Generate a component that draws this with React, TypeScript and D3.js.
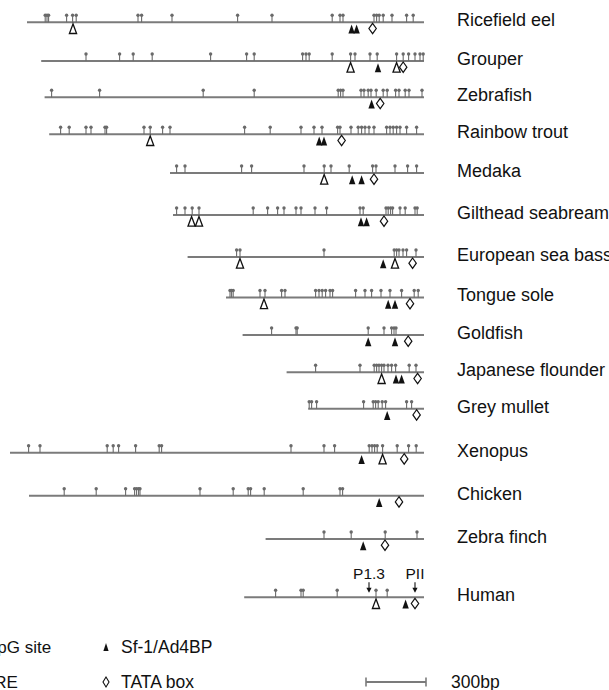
import React from "react";
import * as d3 from "d3";

// Species (rows, top to bottom)
const species = [
  "Ricefield eel", "Grouper", "Zebrafish", "Rainbow  trout", "Medaka",
  "Gilthead seabream", "European sea bass", "Tongue sole", "Goldfish",
  "Japanese flounder", "Grey mullet", "Xenopus", "Chicken", "Zebra finch", "Human",
];

// Promoter start (bp upstream of the reference end, 0)
const promoterStart = [-1985, -1914, -1897, -1874, -1270, -1255, -1182, -990, -907, -687, -579, -2070, -1975, -792, -899];

// CpG sites (bp)
const cpgSites = [
  [-1894, -1885, -1877, -1787, -1757, -1739, -1430, -1412, -1260, -932, -760, -459, -420, -405, -250, -237, -224, -204, -160, -87, -54],
  [-1690, -1522, -1454, -1359, -1067, -887, -849, -607, -590, -574, -459, -367, -345, -270, -234, -137, -104, -77, -45, -20, -4],
  [-1862, -1622, -1104, -849, -429, -417, -405, -315, -300, -279, -265, -239, -204, -184, -142, -125, -94, -75, -10],
  [-1817, -1774, -1690, -1665, -1595, -1587, -1400, -1369, -1307, -1270, -897, -769, -615, -550, -510, -432, -420, -365, -329, -312, -295, -275, -250, -187, -170, -154, -137, -120, -87, -37],
  [-1237, -1195, -912, -862, -600, -499, -465, -374, -257, -240, -145, -82, -37],
  [-1237, -1195, -1159, -1125, -854, -782, -732, -700, -640, -615, -545, -487, -320, -304, -190, -179, -167, -157, -120, -94, -45, -34],
  [-937, -920, -500, -149, -137, -125, -105, -87, -40],
  [-970, -962, -954, -820, -795, -712, -695, -542, -525, -509, -492, -470, -457, -342, -295, -262, -215, -170, -112, -49, -29],
  [-762, -640, -634, -279, -200, -162, -150, -140],
  [-542, -320, -249, -237, -225, -212, -200, -180, -162, -142, -74, -40],
  [-574, -562, -537, -302, -254, -242, -229, -209, -192, -87, -62],
  [-1977, -1920, -1584, -1554, -1527, -1442, -1324, -1312, -665, -500, -447, -274, -260, -247, -234, -207, -134, -77, -39],
  [-1799, -1639, -1492, -1447, -1437, -1427, -1420, -1120, -954, -879, -867, -799, -604, -420, -407],
  [-500, -364, -194, -35],
  [-742, -615, -604, -434, -240, -184],
];

// CRE sites (open triangles)
const creSites = [
  [-1755], [-367, -137], [], [-1369], [-499], [-1162, -1125], [-920, -145], [-800], [], [-212], [], [-207], [], [], [-240],
];

// Sf-1/Ad4BP sites (filled triangles)
const sf1Sites = [
  [-362, -337], [-230], [-262], [-524, -500], [-359, -312], [-315, -287], [-204], [-179, -145], [-279, -145], [-140, -112], [-184], [-312], [-224], [-304], [-92],
];

// TATA boxes (diamonds)
const tataSites = [
  [-257], [-104], [-219], [-412], [-250], [-200], [-57], [-70], [-79], [-32], [-37], [-99], [-125], [-195], [-45],
];

// Human promoter annotations
const humanPromoters = [
  { label: "P1.3", pos: -275 },
  { label: "PII", pos: -45 },
];

const scaleBarBp = 300;

// Layout
const W = 609;
const H = 690;
const rowY = [22.3, 61, 97.3, 134.3, 173, 215, 257, 297.5, 335, 372.3, 408.7, 452.7, 495.7, 539, 597.3];
const FONT = "'Liberation Sans', Arial, Helvetica, sans-serif";
const LINE_COLOR = "#7b7b7b";
const CPG_COLOR = "#6a6a6a";

export default function App() {
  const x = d3.scaleLinear().domain([-2100, 0]).range([4, 424]);
  const pxPerBp = (x(0) - x(-1));

  const triPath = (cx: number, y0: number, hw: number, h: number) =>
    d3.line()([[cx, y0], [cx - hw, y0 + h], [cx + hw, y0 + h]]) + "Z";
  const diaPath = (cx: number, cy: number, hw: number, hh: number) =>
    d3.line()([[cx, cy - hh], [cx + hw, cy], [cx, cy + hh], [cx - hw, cy]]) + "Z";

  const scaleX1 = 426;
  const scaleX0 = scaleX1 - scaleBarBp * pxPerBp;

  return (
    <svg width={W} height={H} style={{ position: "absolute", left: 0, top: 0, background: "#fff" }} fontFamily={FONT}>
      <rect width={W} height={H} fill="#fff" />
      {species.map((name, i) => {
        const y = rowY[i];
        return (
          <g key={name}>
            <line x1={x(promoterStart[i])} x2={x(0)} y1={y} y2={y} stroke={LINE_COLOR} strokeWidth={2} />
            {cpgSites[i].map((p, j) => (
              <g key={"c" + j}>
                <line x1={x(p)} x2={x(p)} y1={y} y2={y - 7} stroke={CPG_COLOR} strokeWidth={1.1} />
                <circle cx={x(p)} cy={y - 7} r={1.7} fill={CPG_COLOR} />
              </g>
            ))}
            {creSites[i].map((p, j) => (
              <path key={"r" + j} d={triPath(x(p), y + 1.6, 3.6, 9.6)} fill="#fff" stroke="#111" strokeWidth={1.3} strokeLinejoin="miter" />
            ))}
            {sf1Sites[i].map((p, j) => (
              <path key={"s" + j} d={triPath(x(p), y + 2.2, 3.2, 9)} fill="#111" />
            ))}
            {tataSites[i].map((p, j) => (
              <path key={"t" + j} d={diaPath(x(p), y + 6.2, 3.7, 5.2)} fill="#fff" stroke="#111" strokeWidth={1.2} />
            ))}
            <text x={457} y={y + 3.8} fontSize={18} fill="#111">{name}</text>
          </g>
        );
      })}
      {humanPromoters.map((a) => {
        const y = rowY[14];
        const ax = x(a.pos);
        return (
          <g key={a.label}>
            <text x={ax} y={y - 18.5} fontSize={15.5} textAnchor="middle" fill="#111">{a.label}</text>
            <line x1={ax} x2={ax} y1={y - 15} y2={y - 6} stroke="#111" strokeWidth={1.1} />
            <path d={triPath(ax, y - 4.5, 2.6, -5)} fill="#111" />
          </g>
        );
      })}
      {/* Legend */}
      <g>
        <line x1={-40} x2={-40} y1={650} y2={643} stroke={CPG_COLOR} strokeWidth={1.1} />
        <text x={-15} y={653} fontSize={17} fill="#111">CpG site</text>
        <text x={-18} y={688} fontSize={17} fill="#111">CRE</text>
        <path d={triPath(106, 643, 2.6, 8)} fill="#111" />
        <text x={121} y={653} fontSize={17.5} fill="#111">Sf-1/Ad4BP</text>
        <path d={diaPath(106, 682, 3, 5)} fill="#fff" stroke="#111" strokeWidth={1.1} />
        <text x={121} y={688} fontSize={17.5} fill="#111">TATA box</text>
        <line x1={scaleX0} x2={scaleX1} y1={682} y2={682} stroke={LINE_COLOR} strokeWidth={2} />
        <line x1={scaleX0} x2={scaleX0} y1={677.5} y2={686.5} stroke={LINE_COLOR} strokeWidth={1.6} />
        <line x1={scaleX1} x2={scaleX1} y1={677.5} y2={686.5} stroke={LINE_COLOR} strokeWidth={1.6} />
        <text x={451} y={688} fontSize={17.5} fill="#111">{scaleBarBp}bp</text>
      </g>
    </svg>
  );
}
